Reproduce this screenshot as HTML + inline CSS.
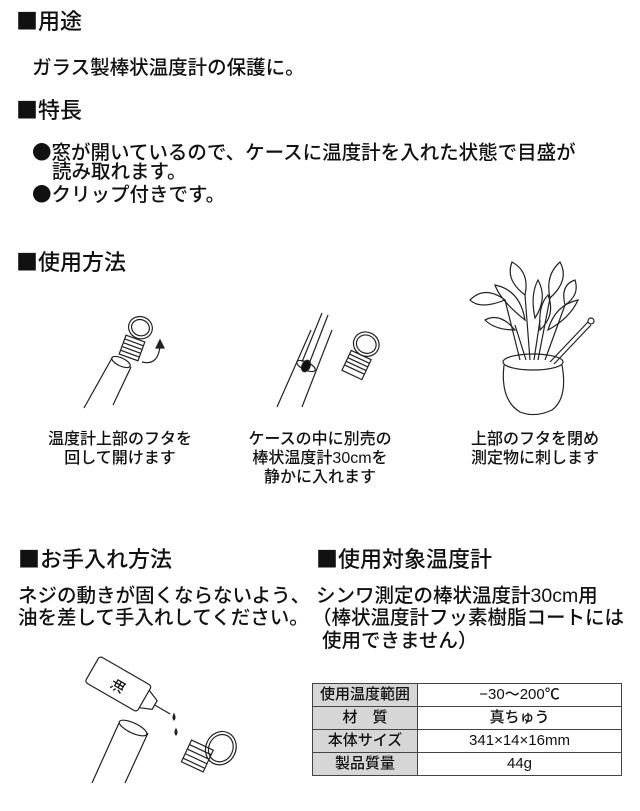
<!DOCTYPE html>
<html><head><meta charset="utf-8"><style>
body{margin:0;width:640px;height:811px;background:#fff;position:relative;overflow:hidden;font-family:"Liberation Sans","Noto Sans CJK JP",sans-serif;color:#111;font-weight:500}
.t{position:absolute;white-space:nowrap;line-height:1}
.h{font-size:22px}
.b{font-size:19.5px;line-height:20px}
.l{font-size:16px;text-align:center;line-height:19px}
.s{font-family:"Noto Sans CJK JP",sans-serif;line-height:20px}
table{position:absolute;left:312px;top:683px;width:310px;border-collapse:collapse;font-size:15px}
td{border:1.5px solid #444;height:22px;padding:0;text-align:center;line-height:22px}
td.k{background:#d6d6d6;width:104px}
</style></head><body>
<div class="t h" style="left:16px;top:10px"><span class="s">■</span>用途</div>
<div class="t b" style="left:32px;top:58px">ガラス製棒状温度計の保護に。</div>
<div class="t h" style="left:16px;top:99px"><span class="s">■</span>特長</div>
<div class="t b" style="left:32px;top:141px"><span class="s">●</span>窓が開いているので、ケースに温度計を入れた状態で目盛が</div>
<div class="t b" style="left:52px;top:162px">読み取れます。</div>
<div class="t b" style="left:32px;top:183px"><span class="s">●</span>クリップ付きです。</div>
<div class="t h" style="left:16px;top:251px"><span class="s">■</span>使用方法</div>

<div class="t l" style="left:40px;top:430px;width:160px">温度計上部のフタを<br>回して開けます</div>
<div class="t l" style="left:240px;top:430px;width:160px">ケースの中に別売の<br>棒状温度計30cmを<br>静かに入れます</div>
<div class="t l" style="left:455px;top:430px;width:160px">上部のフタを閉め<br>測定物に刺します</div>

<div class="t h" style="left:18px;top:548px"><span class="s">■</span>お手入れ方法</div>
<div class="t h" style="left:316px;top:548px"><span class="s">■</span>使用対象温度計</div>
<div class="t b" style="left:18px;top:586px">ネジの動きが固くならないよう、</div>
<div class="t b" style="left:18px;top:608px">油を差して手入れしてください。</div>
<div class="t b" style="left:316px;top:586px">シンワ測定の棒状温度計30cm用</div>
<div class="t b" style="left:312px;top:608px">（棒状温度計フッ素樹脂コートには</div>
<div class="t b" style="left:322px;top:631px">使用できません）</div>

<table>
<tr><td class="k">使用温度範囲</td><td>−30〜200℃</td></tr>
<tr><td class="k">材　質</td><td>真ちゅう</td></tr>
<tr><td class="k">本体サイズ</td><td>341×14×16mm</td></tr>
<tr><td class="k">製品質量</td><td>44g</td></tr>
</table>

<svg width="640" height="811" style="position:absolute;left:0;top:0" fill="none" stroke="#222" stroke-width="1.2">
<line x1="84" y1="408" x2="112" y2="358"/><line x1="113" y1="405" x2="131" y2="367"/>
<ellipse cx="121" cy="362" rx="10" ry="4" transform="rotate(25 121 362)"/>
<g transform="rotate(20 132 348)">
<rect x="122" y="338" width="20" height="20"/>
<line x1="122" y1="342" x2="142" y2="342"/><line x1="122" y1="346" x2="142" y2="346"/><line x1="122" y1="350" x2="142" y2="350"/><line x1="122" y1="354" x2="142" y2="354"/>
<ellipse cx="133" cy="326" rx="12" ry="11"/><ellipse cx="133" cy="326" rx="9" ry="8"/>
</g>
<path d="M142 362 Q158 366 160 346" /><path d="M156 348 L160 340 L164 348Z" fill="#222"/>
<line x1="277" y1="407" x2="311" y2="330"/><line x1="302" y1="407" x2="332" y2="330"/>
<ellipse cx="306" cy="366" rx="10" ry="4" transform="rotate(25 306 366)"/>
<line x1="302" y1="362" x2="322" y2="313"/><line x1="309" y1="364" x2="328" y2="315"/>
<ellipse cx="306" cy="366" rx="4" ry="6" fill="#111" transform="rotate(25 306 366)"/>
<g transform="rotate(25 360 360)">
<rect x="348" y="355" width="22" height="22"/>
<line x1="348" y1="359" x2="370" y2="359"/><line x1="348" y1="363" x2="370" y2="363"/><line x1="348" y1="367" x2="370" y2="367"/><line x1="348" y1="371" x2="370" y2="371"/>
<ellipse cx="359" cy="343" rx="13" ry="12"/><ellipse cx="359" cy="343" rx="10" ry="9"/>
</g>
<path d="M504 365 Q500 400 520 412 Q535 418 552 410 Q568 398 562 365"/>
<ellipse cx="533" cy="362" rx="30" ry="8"/>
<path d="M520 360 L505 300 M530 360 L525 295 M538 360 L550 298 M545 360 L565 305 M526 360 L515 325 M534 360 L540 320"/>
<path d="M505 300 Q480 310 470 300 Q485 285 505 300Z"/>
<path d="M525 295 Q505 280 512 262 Q530 272 525 295Z"/>
<path d="M550 298 Q545 275 560 262 Q570 280 550 298Z"/>
<path d="M565 305 Q580 295 575 280 Q560 285 565 305Z"/>
<path d="M515 330 Q495 330 485 320 Q500 312 515 330Z"/>
<path d="M540 330 Q538 305 548 295 Q556 315 540 330Z"/>
<path d="M525 320 Q500 300 495 285 Q520 290 525 320Z"/>
<path d="M535 318 Q530 295 538 280 Q548 298 535 318Z"/>
<path d="M548 330 Q570 318 578 300 Q555 305 548 330Z"/>
<line x1="550" y1="362" x2="588" y2="322"/><line x1="554" y1="364" x2="591" y2="325"/>
<circle cx="591" cy="321" r="3"/>
<g transform="rotate(30 120 685)">
<rect x="88" y="670" width="60" height="30" rx="3"/>
<path d="M148 675 L160 680 L160 690 L148 695"/><line x1="160" y1="685" x2="178" y2="685"/>
<text x="110" y="692" font-size="14" fill="#111" stroke="none" font-family="Noto Sans CJK JP,sans-serif" transform="rotate(-90 118 686)">油</text>
</g>
<path d="M174 714 q-2 4 0 6 q2 -2 0 -6Z" fill="#222"/>
<path d="M176 729 q-2 4 0 6 q2 -2 0 -6Z" fill="#222"/>
<line x1="92" y1="783" x2="119" y2="723"/><line x1="125" y1="783" x2="148" y2="733"/>
<ellipse cx="133" cy="728" rx="15" ry="5" transform="rotate(25 133 728)"/>
<g transform="rotate(25 200 755)">
<rect x="186" y="745" width="24" height="24"/>
<line x1="186" y1="750" x2="210" y2="750"/><line x1="186" y1="755" x2="210" y2="755"/><line x1="186" y1="760" x2="210" y2="760"/><line x1="186" y1="765" x2="210" y2="765"/>
<ellipse cx="216" cy="740" rx="15" ry="17"/><ellipse cx="216" cy="740" rx="12" ry="14"/>
</g>
</svg>
</body></html>
